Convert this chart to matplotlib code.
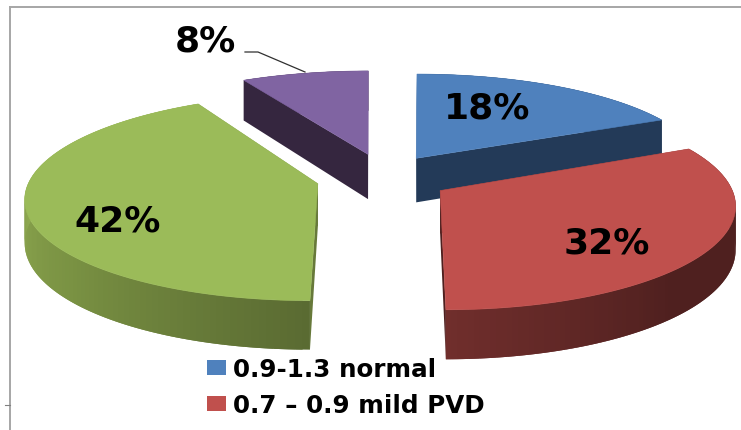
import numpy as np
import matplotlib
matplotlib.use("Agg")
import matplotlib.pyplot as plt
from matplotlib.patches import Polygon, Patch
from matplotlib.colors import to_rgb

# Share of patients per ABI band
categories = ["0.9-1.3 normal", "0.7 \u2013 0.9 mild PVD", None, None]
percentages = [18, 32, 42, 8]
top_colors = ["#4F81BD", "#C0504D", "#9BBB59", "#8064A2"]
wall_colors = ["#233A58", "#4F201F", "#67793A", "#35263F"]

# Rim shading as (clockwise angle from twelve o'clock, colour) stops
rim_stops = [
    [(0, "#233A58"), (360, "#233A58")],
    [(0, "#4F201F"), (135, "#4F201F"), (180, "#702E2C")],
    [(180, "#5A6B32"), (230, "#7A9243"), (285, "#94AF54"), (360, "#94AF54")],
    [(0, "#35263F"), (360, "#35263F")],
]

# Slice displacement on the pie plane (x to the right, y away from the viewer)
explode_xy = [(0.165, 0.162), (0.240, -0.164), (-0.180, -0.097), (-0.007, 0.204)]
# Per-slice tweaks of the projected wedge: width factor, lean, extrusion height
width_factor = [1.02, 1.0, 1.0, 1.03]
lean_px = [6, 5, 0, 0]
depth_px = [45, 42, 42, 46]

# Perspective projection of the pie plane onto the canvas
CENTER_X, CENTER_Y = 370, 175
SCALE_X, SCALE_Y = 286, 99
PERSPECTIVE = 0.13
DRAW_ORDER = [3, 0, 2, 1]


def project(x, y):
    w = 1 + PERSPECTIVE * y
    return CENTER_X + SCALE_X * x / w, CENTER_Y - SCALE_Y * y / w


def rim_color(stops, angle):
    angles = [s[0] for s in stops]
    rgb = np.array([to_rgb(s[1]) for s in stops])
    return tuple(np.interp(angle, angles, rgb[:, i]) for i in range(3))


fig = plt.figure(figsize=(7.41, 4.31), dpi=100)
ax = fig.add_axes([0, 0, 1, 1])
ax.set_xlim(0, 741)
ax.set_ylim(431, 0)
ax.axis("off")

# Chart frame remnants
ax.plot([10, 741], [8, 8], color="#a6a6a6", lw=1.4)
ax.plot([10, 10], [8, 431], color="#a6a6a6", lw=1.4)
ax.plot([5, 10], [406, 406], color="#808080", lw=0.8)

edges = np.cumsum([0] + percentages) / sum(percentages) * 360
for i in DRAW_ORDER:
    a0, a1 = edges[i], edges[i + 1]
    ox, oy = explode_xy[i]
    th = np.linspace(a0, a1, 121)
    ux = np.sin(np.radians(th)) * width_factor[i]
    uy = np.cos(np.radians(th))
    sx, sy = project(ox + ux, oy + uy)
    sx = sx + lean_px[i] * uy
    d = depth_px[i] / (1 + PERSPECTIVE * (oy + uy))
    apex = project(ox, oy)
    apex_d = depth_px[i] / (1 + PERSPECTIVE * oy)

    # Straight cut faces towards the apex
    for end in (0, -1):
        ax.add_patch(Polygon(
            [(apex[0], apex[1]), (sx[end], sy[end]),
             (sx[end], sy[end] + d[end]), (apex[0], apex[1] + apex_d)],
            closed=True, fc=wall_colors[i], ec="none", zorder=2))

    # Curved rim as a run of overlapping shaded strips
    for k in range(len(th) - 1):
        m = min(k + 2, len(th) - 1)
        c = rim_color(rim_stops[i], 0.5 * (th[k] + th[k + 1]))
        ax.add_patch(Polygon(
            [(sx[k], sy[k]), (sx[m], sy[m]),
             (sx[m], sy[m] + d[m]), (sx[k], sy[k] + d[k])],
            closed=True, fc=c, ec="none", zorder=2))

    # Top face
    ax.add_patch(Polygon(
        np.column_stack([np.r_[apex[0], sx], np.r_[apex[1], sy]]),
        closed=True, fc=top_colors[i], ec=top_colors[i], lw=0.4, zorder=3))

# Percentage labels
label_xy = [(487, 109), (607, 244), (118, 222), (205, 41)]
for v, (x, y) in zip(percentages, label_xy):
    ax.text(x, y, f"{v}%", ha="center", va="center", fontsize=26,
            fontweight="bold", color="black", zorder=5)

# Leader line of the smallest slice
ax.plot([245, 258, 305], [53, 53, 73], color="#303030", lw=0.9, zorder=4)

handles = [Patch(fc=top_colors[i], ec="none", label=categories[i]) for i in range(2)]
ax.legend(handles=handles, loc="upper left", bbox_to_anchor=(207 / 741, 1 - 358 / 431),
          frameon=False, prop=dict(size=17.7, weight="bold"), borderpad=0,
          borderaxespad=0, handlelength=0.77, handleheight=0.57, handletextpad=0.3,
          labelspacing=0.5)

fig.savefig("out.png", dpi=100)
